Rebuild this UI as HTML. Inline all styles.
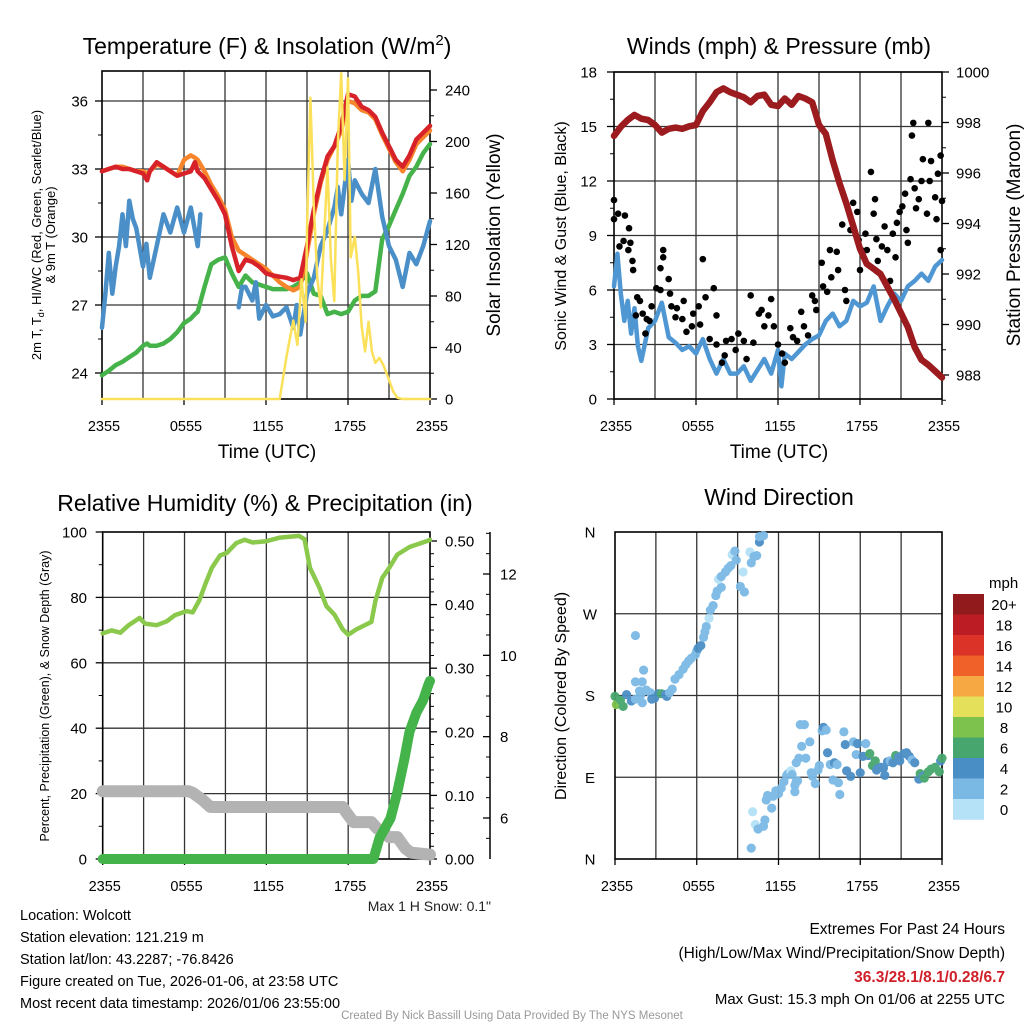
<!DOCTYPE html>
<html><head><meta charset="utf-8">
<style>
html,body{margin:0;padding:0;background:#fff;}
svg{display:block;font-family:"Liberation Sans",Arial,sans-serif;}
</style></head>
<body>
<svg id="svg" width="1024" height="1024" viewBox="0 0 1024 1024" xmlns="http://www.w3.org/2000/svg">
<rect x="0" y="0" width="1024" height="1024" fill="#fff"/>
<g id="g1"></g>
<g id="g2"></g>
<g id="g3"></g>
<g id="g4"></g>
<g id="txt">
<text x="267" y="54" font-size="23" text-anchor="middle">Temperature (F) &amp; Insolation (W/m<tspan dy="-9" font-size="15">2</tspan><tspan dy="9">)</tspan></text>
<text x="779" y="54" font-size="23" text-anchor="middle">Winds (mph) &amp; Pressure (mb)</text>
<text x="265" y="511" font-size="23" text-anchor="middle">Relative Humidity (%) &amp; Precipitation (in)</text>
<text x="779" y="505" font-size="23" text-anchor="middle">Wind Direction</text>
<text x="267" y="458" font-size="19" text-anchor="middle">Time (UTC)</text>
<text x="779" y="458" font-size="19" text-anchor="middle">Time (UTC)</text>
<text transform="translate(41,235) rotate(-90)" font-size="13" text-anchor="middle">2m T, T<tspan dy="3" font-size="9">d</tspan><tspan dy="-3">, HI/WC (Red, Green, Scarlet/Blue)</tspan></text>
<text transform="translate(55,235) rotate(-90)" font-size="13" text-anchor="middle">&amp; 9m T (Orange)</text>
<text transform="translate(500,235) rotate(-90)" font-size="19" text-anchor="middle">Solar Insolation (Yellow)</text>
<text transform="translate(566,236) rotate(-90)" font-size="16" text-anchor="middle">Sonic Wind &amp; Gust (Blue, Black)</text>
<text transform="translate(1020,235) rotate(-90)" font-size="19" text-anchor="middle">Station Pressure (Maroon)</text>
<text transform="translate(49,696) rotate(-90)" font-size="12.5" text-anchor="middle">Percent, Precipitation (Green), &amp; Snow Depth (Gray)</text>
<text transform="translate(566,696) rotate(-90)" font-size="16" text-anchor="middle">Direction (Colored By Speed)</text>
<text x="491" y="911" font-size="14" text-anchor="end" fill="#222">Max 1 H Snow: 0.1"</text>
<text x="20" y="920" font-size="14.5">Location: Wolcott</text>
<text x="20" y="942" font-size="14.5">Station elevation: 121.219 m</text>
<text x="20" y="964" font-size="14.5">Station lat/lon: 43.2287; -76.8426</text>
<text x="20" y="986" font-size="14.5">Figure created on Tue, 2026-01-06, at 23:58 UTC</text>
<text x="20" y="1008" font-size="14.5">Most recent data timestamp: 2026/01/06 23:55:00</text>
<text x="1005" y="934" font-size="15.5" text-anchor="end">Extremes For Past 24 Hours</text>
<text x="1005" y="958" font-size="15.5" text-anchor="end">(High/Low/Max Wind/Precipitation/Snow Depth)</text>
<text x="1005" y="982" font-size="15.5" font-weight="bold" fill="#d0202a" text-anchor="end">36.3/28.1/8.1/0.28/6.7</text>
<text x="1005" y="1004" font-size="15" text-anchor="end">Max Gust: 15.3 mph On 01/06 at 2255 UTC</text>
<text x="512" y="1019" font-size="11.5" fill="#999" text-anchor="middle">Created By Nick Bassill Using Data Provided By The NYS Mesonet</text>
</g>
</svg>
<script>
// ---------- data (hours since 23:55 UTC) ----------
const timeTicks = ["2355","0555","1155","1755","2355"];
const tHours = [0,0.5,1,1.5,2,2.5,3,3.3,3.5,4,4.5,5,5.5,6,6.5,6.8,7,7.5,8,8.5,9,9.5,10,10.5,11,11.5,12,12.5,13,13.5,14,14.5,15,15.5,16,16.5,17,17.5,18,18.5,19,19.5,20,20.5,21,21.5,22,22.5,23,23.5,24];
const tempRed = [32.9,33.0,33.1,33.0,33.0,32.9,32.8,32.5,32.9,33.3,33.1,32.9,32.7,32.8,32.9,33.3,32.9,32.6,32.1,31.6,31.0,29.6,28.5,29.0,28.9,28.7,28.4,28.3,28.25,28.2,28.1,28.2,29.6,31.2,32.5,33.55,34.0,34.9,36.3,36.2,35.75,35.6,35.3,34.6,34.0,33.4,33.1,33.6,34.3,34.6,34.9];
const tempOrange = [32.9,33.0,33.1,33.1,33.0,32.9,32.9,32.8,32.9,33.2,33.1,32.9,32.7,33.4,33.6,33.5,33.4,32.9,32.3,31.8,31.2,30.0,29.4,29.2,29.0,28.8,28.6,28.3,28.0,27.8,27.65,27.8,29.3,31.0,32.4,33.4,34.0,34.7,36.0,35.9,35.6,35.5,35.2,34.5,33.9,33.3,32.9,33.4,34.1,34.4,34.7];
const tempGreen = [23.9,24.1,24.35,24.5,24.7,24.9,25.2,25.3,25.2,25.2,25.3,25.5,25.8,26.2,26.4,26.6,26.7,27.8,28.8,29.0,29.1,28.4,27.8,28.3,28.0,27.9,27.8,27.7,27.7,27.7,27.8,28.0,28.4,27.5,27.4,26.6,26.7,26.6,26.7,27.2,27.4,27.4,27.6,29.9,30.5,31.2,31.9,32.7,33.1,33.7,34.1];
const dewHours = [0,0.25,0.5,0.75,1,1.25,1.5,1.75,2,2.25,2.5,3,3.25,3.5,4,4.5,5,5.5,6,6.5,7,7.2,null,10,10.25,10.5,11,11.25,11.5,12,12.5,13,13.5,14,14.25,14.5,15,15.5,16,16.5,17,17.25,17.5,18,18.25,18.5,19,19.5,20,20.5,21,21.5,22,22.5,23,23.5,24];
const tempBlue = [26.0,27.5,29.3,27.5,28.7,29.6,31.0,29.6,31.6,30.8,30.4,28.7,29.7,28.2,29.6,31.0,30.2,31.3,30.2,31.3,29.6,31.0,null,26.9,27.8,27.8,27.2,28.0,26.4,27.0,26.5,26.6,26.9,26.0,27.0,25.7,27.5,28.2,29.6,30.3,31.3,32.2,31.0,33.4,31.6,32.5,31.9,31.5,33.0,30.9,29.6,29.0,27.8,29.3,28.8,29.6,30.7];
const solarHours = [0,13,13.5,14,14.3,14.6,14.9,15,15.25,15.5,15.75,16,16.5,16.75,17,17.25,17.5,17.75,18,18.2,18.5,18.75,19,19.25,19.5,19.75,20,20.3,20.6,21,21.3,21.6,22,24];
const solar = [0,0,33,61,42,93,60,131,234,150,94,71,180,108,76,198,253,170,249,110,126,98,56,37,60,37,28,32,26,15,6,1,0,0];
const windHours = [0,0.25,0.5,0.75,1,1.25,1.5,1.75,2,2.5,3,3.5,4,4.5,5,5.5,6,6.5,7,7.5,8,8.5,9,9.5,10,10.5,11,11.5,12,12.25,12.5,13,13.5,14,14.5,15,15.5,16,16.5,17,17.5,18,18.5,19,19.5,20,20.5,21,21.5,22,22.5,23,23.5,24];
const windSpeed = [6.2,8.0,5.8,4.3,5.4,3.6,5.0,2.9,2.1,3.9,4.3,5.3,3.4,3.1,2.7,2.9,2.5,3.3,2.2,1.4,2.2,1.4,1.4,1.8,1.0,1.6,2.2,1.4,2.7,0.7,2.5,2.2,2.6,3.0,3.3,3.5,4.3,4.7,4.0,4.3,5.4,5.1,5.3,6.2,4.3,5.1,5.8,5.4,6.2,6.5,6.9,6.5,7.3,7.65];
const gustHours = [0,0,0.3,0.8,1.1,0.4,0.7,1.2,1.05,1.35,1.4,1.7,1.9,1.6,2.1,2.4,2.75,2.3,2.6,3.4,3.6,3.6,3.1,3.4,4.0,4.1,4.2,4.5,4.6,5.0,5.1,5.3,5.7,5.8,6.2,6.3,6.5,6.7,7.0,7.3,7.5,7.5,7.9,8.1,8.2,8.6,8.9,9.1,9.5,9.7,10.0,10.2,10.6,10.8,11.0,11.3,11.5,11.7,12.0,12.3,12.5,12.9,13.1,13.4,13.7,13.9,14.2,14.5,14.7,14.8,15.2,15.3,15.6,15.8,15.9,16.3,16.4,16.7,16.9,17.0,17.3,17.5,17.8,17.9,18.1,18.0,18.4,18.5,18.8,19.0,19.1,19.2,19.3,19.6,19.8,20.0,20.2,20.4,20.6,20.7,20.9,21.1,21.3,21.4,21.5,21.7,21.8,21.9,22.0,22.1,22.3,22.5,22.6,22.9,23.0,23.1,23.2,23.5,23.6,23.7,23.9,24.0,23.9];
const gustSpeed = [10.95,9.9,10.2,10.1,9.4,8.4,8.7,8.6,8.2,7.6,7.1,5.6,5.4,4.6,4.7,4.4,5.1,3.6,4.3,7.2,8.2,7.8,6.1,6.0,6.6,5.8,5.1,4.5,5.0,4.4,5.4,3.7,4.0,4.7,5.1,4.1,7.7,5.6,3.3,6.1,4.6,3.0,2.0,2.4,3.2,3.3,2.7,3.6,3.2,2.2,5.7,3.1,4.7,4.9,4.0,4.6,5.5,4.0,3.0,2.5,2.0,3.9,3.4,3.2,4.8,4.0,3.5,5.7,5.4,4.9,7.5,6.2,5.9,8.2,6.7,8.1,7.1,9.6,6.0,5.4,9.3,10.8,10.3,8.75,8.2,7.1,9.1,8.2,12.5,10.2,11.0,8.8,7.6,8.4,9.5,8.2,6.5,9.1,7.8,9.7,10.3,10.6,11.3,9.3,8.6,12.1,14.5,15.2,11.6,10.5,11.0,12.0,13.2,10.2,15.2,12.0,13.1,11.1,9.9,12.4,13.4,10.9,8.2];
const presHours = [0,0.5,1,1.5,2,2.5,3,3.5,4,4.5,5,5.5,6,6.5,7,7.5,8,8.5,9,9.5,10,10.5,11,11.5,12,12.5,13,13.5,14,14.5,15,15.5,16,16.5,17,17.5,18,18.5,19,19.5,20,20.5,21,21.5,22,22.5,23,23.5,24];
const pressure = [997.47,997.83,998.1,998.3,998.15,998.1,997.9,997.6,997.75,997.8,997.75,997.85,997.9,998.45,998.8,999.2,999.35,999.2,999.1,999.0,998.8,999.05,999.1,998.7,998.65,998.95,998.7,999.05,998.95,998.8,997.9,997.55,996.5,995.6,994.8,993.9,993.0,992.4,992.2,992.0,991.5,991.0,990.45,989.9,989.1,988.6,988.4,988.15,987.9];
const rhHours = [0,0.66,1.3,1.9,2.7,3.1,3.95,4.7,5.3,6.15,6.6,7.1,7.5,8,8.6,9.1,9.8,10.4,11,12,13,14.4,14.8,15.2,15.9,16.4,17,17.6,18,18.6,19.7,20,20.5,21,21.6,22.5,23.9,24];
const rh = [69,69.9,69.2,71.5,73.7,72.0,71.5,72.7,74.6,75.8,75.4,79.2,83.8,89,92.8,93.6,96.6,97.6,96.8,97.2,98.3,98.8,97.8,89,82.9,77.3,74.7,70.2,68.6,70.2,72.5,78.9,86,89,93.1,95.4,97.4,97.6];
const precipHours = [0,19.85,20.3,21.1,21.6,22.1,22.5,23,23.5,23.9,24];
const precip = [0,0,0.033,0.064,0.105,0.155,0.2,0.23,0.25,0.275,0.28];
const snowHours = [0,6.3,6.6,7.3,7.9,17.6,17.9,18.4,19.7,20.1,21.0,21.6,22.2,22.6,24];
const snow = [6.66,6.66,6.62,6.45,6.27,6.27,6.12,5.9,5.9,5.75,5.53,5.53,5.25,5.15,5.1];
const dirHours = [0,0.1,0.4,0.6,0.85,1.2,1.5,1.8,1.9,2.0,1.5,2.1,1.5,2.0,2.3,2.6,2.7,2.9,3.2,3.4,3.7,3.8,4.0,4.2,4.4,4.7,5.0,5.2,5.4,5.6,5.9,6.0,6.1,6.3,6.5,6.6,6.7,6.9,7.0,7.2,7.4,7.5,7.8,7.6,7.8,8.1,8.3,8.5,8.6,8.8,8.9,9.2,9.4,9.5,9.9,10.0,10.2,10.4,10.6,10.9,10.6,10.0,10.3,10.5,10.9,10.1,11.0,11.1,11.2,11.5,11.6,11.8,12.0,12.2,12.4,12.6,12.7,12.9,13.0,13.2,13.2,13.3,13.4,13.3,13.5,13.6,13.7,13.9,14.0,14.3,14.4,14.5,14.7,14.9,15.0,15.2,15.3,15.5,15.6,15.8,16.0,16.1,16.3,16.4,16.5,16.8,16.9,17.0,17.3,17.5,17.7,17.8,18.0,18.2,18.4,18.6,18.7,18.9,19.1,19.2,19.3,19.5,19.7,19.8,20.0,20.2,20.4,20.6,20.8,20.9,21.2,21.4,21.6,21.8,22.0,22.3,22.4,22.6,22.7,23.0,23.2,23.5,23.8,23.9,24.0];
const dirDeg = [179,170,175,168,181,174,176,185,181,172,246,208,195,195,186,183,176,177,182,182,181,179,183,187,198,203,209,214,218,221,225,229,232,235,244,250,256,265,274,279,290,295,299,308,311,316,320,323,335,339,329,300,316,294,338,326,333,334,349,356,355,12,38,33,36,52,43,65,70,56,69,75,72,78,85,92,94,97,93,74,81,85,86,106,111,148,124,148,111,129,95,91,83,98,103,141,145,142,117,104,87,106,104,84,71,140,126,97,91,129,115,127,95,113,127,114,116,103,108,98,100,101,100,92,107,108,106,114,112,108,116,117,113,109,106,88,94,91,89,96,99,101,96,108,111,99,107,104,109,116,126,114,113,116,113,119,113];
const dirSpeed = [7,8.5,7,7,5,5,3,3,3,3,3,3,3,3,3,3,5,5,5,7,5,5,3,3,3,3,3,3,3,3,3,3,5,5,3,3,3,1.5,3,3,3,3,3,1.5,3,3,3,3,1.5,3,3,3,1.5,3,1.5,3,3,3,5,3,3,3,1.5,3,3,1.5,3,3,3,3,3,3,3,3,3,3,3,1.5,3,3,3,3,3,3,3,3,3,3,3,3,3,3,3,3,3,3,5,3,5,3,3,5,3,3,3,3,5,5,5,3,3,5,5,5,3,5,7,7,7,5,5,5,5,5,5,3,5,7,5,5,5,5,5,3,5,5,7,5,7,7,7,7,7,5,7,7,7,7,7,7,7,8.5,5];
const cbLabels = ["20+","18","16","14","12","10","8","6","4","2","0"];
const cbColors = ["#911a1c","#bc1d25","#db3328","#ef6129","#f6a843","#e5e05a","#7cc24c","#47a66d","#4a8ec6","#7bb9e5","#b5e2f7"];

// ---------- helpers ----------
const NS="http://www.w3.org/2000/svg";
function mk(parent,tag,attrs){const e=document.createElementNS(NS,tag);for(const k in attrs)e.setAttribute(k,attrs[k]);parent.appendChild(e);return e;}
function lin(d0,d1,r0,r1){return v=>r0+(v-d0)*(r1-r0)/(d1-d0);}
function pathOf(xs,ys,sx,sy){let d="",pen=false;for(let i=0;i<xs.length;i++){if(xs[i]===null||ys[i]===null){pen=false;continue;}d+=(pen?"L":"M")+sx(xs[i]).toFixed(1)+" "+sy(ys[i]).toFixed(1);pen=true;}return d;}
function line(g,xs,ys,sx,sy,color,w,name){const p=mk(g,"path",{d:pathOf(xs,ys,sx,sy),fill:"none",stroke:color,"stroke-width":w,"stroke-linejoin":"round","stroke-linecap":"round"});


return p;}
function txt(g,x,y,s,size,anchor,name){const t=mk(g,"text",{x:x,y:y,"font-size":size,"text-anchor":anchor});t.textContent=s;


return t;}
function frame(g,x0,x1,y0,y1,hLines,vCount,name){
  const gr=mk(g,"g",{});
  
  
  hLines.forEach(y=>{const l=mk(gr,"line",{x1:x0,x2:x1,y1:y,y2:y,stroke:"#333","stroke-width":1.3});
    
    });
  for(let i=1;i<vCount;i++){const x=x0+(x1-x0)*i/vCount;const l=mk(gr,"line",{x1:x,x2:x,y1:y0,y2:y1,stroke:"#333","stroke-width":1.3});
    
    }
  const b=mk(gr,"rect",{x:x0,y:y0,width:x1-x0,height:y1-y0,fill:"none",stroke:"#000","stroke-width":1.6});
  
  
}
function xTicks(g,x0,x1,y1,ly,name){for(let i=0;i<timeTicks.length;i++){const x=x0+(x1-x0)*i/(timeTicks.length-1);
  const l=mk(g,"line",{x1:x,x2:x,y1:y1,y2:y1+6,stroke:"#000","stroke-width":1.3});
  
  
  txt(g,x+2,ly,timeTicks[i],14.5,"middle",name+'-x-tick-label');}}
function yTicks(g,vals,labels,sy,x,dir,lx,anchor,name,minor){
  vals.forEach((v,i)=>{const y=sy(v);const l=mk(g,"line",{x1:x,x2:x+dir*7,y1:y,y2:y,stroke:"#000","stroke-width":1.3});
    
    
    txt(g,lx,y+5.5,labels[i],15,anchor,name+'-tick-label');});
  (minor||[]).forEach(v=>{const y=sy(v);const l=mk(g,"line",{x1:x,x2:x+dir*4,y1:y,y2:y,stroke:"#000","stroke-width":1});
    
    });
}

// ---------- panel 1 ----------
(function(){
const g=document.getElementById("g1");
const X0=102,X1=430,Y0=71,Y1=399;
const sx=lin(0,24,X0,X1), sT=lin(36,24,101,373), sS=lin(0,240,399,90);
const tTicks=[36,33,30,27,24];
frame(g,X0,X1,Y0,Y1,tTicks.map(sT),8,"temp");
yTicks(g,tTicks,tTicks.map(String),sT,X0,-1,88,"end","temp-y",[34.5,31.5,28.5,25.5]);
const sTicks=[0,40,80,120,160,200,240];
yTicks(g,sTicks,sTicks.map(String),sS,X1,1,445,"start","solar-y",[20,60,100,140,180,220]);
xTicks(g,X0,X1,Y1,431,"temp");
line(g,tHours,tempGreen,sx,sT,"#45b349",4.5,"heat-index-line");
line(g,dewHours,tempBlue,sx,sT,"#4a8fc8",4.5,"dewpoint-line");
line(g,tHours,tempOrange,sx,sT,"#f7852c",4.5,"temp-9m-line");
line(g,tHours,tempRed,sx,sT,"#d7222a",4.5,"temp-2m-line");
line(g,solarHours,solar,sx,sS,"#fbe05a",2.5,"solar-line");
})();

// ---------- panel 2 ----------
(function(){
const g=document.getElementById("g2");
const X0=614,X1=942,Y0=72,Y1=399;
const sx=lin(0,24,X0,X1), sW=lin(0,18,399,72), sP=lin(988,1000,375,72);
const wT=[0,3,6,9,12,15,18];
frame(g,X0,X1,Y0,Y1,wT.map(sW),8,"wind");
yTicks(g,wT,wT.map(String),sW,X0,-1,597,"end","wind-y",[1.5,4.5,7.5,10.5,13.5,16.5]);
const pT=[988,990,992,994,996,998,1000];
yTicks(g,pT,pT.map(String),sP,X1,1,956,"start","pressure-y",[987,989,991,993,995,997,999]);
xTicks(g,X0,X1,Y1,431,"wind");
line(g,windHours,windSpeed,sx,sW,"#4f97d3",4.5,"wind-speed-line");
const gg=mk(g,"g",{});


for(let i=0;i<gustHours.length;i++){const c=mk(gg,"circle",{cx:sx(gustHours[i]),cy:sW(gustSpeed[i]),r:3.3,fill:"#000"});
  
  }
line(g,presHours,pressure,sx,sP,"#9b1b1e",6.5,"pressure-line");
})();

// ---------- panel 3 ----------
(function(){
const g=document.getElementById("g3");
const X0=102.7,X1=430,Y0=532,Y1=859;
const sx=lin(0,24,X0,X1), sR=lin(0,100,859,532), sPr=lin(0,0.5,859,541), sSn=lin(6,12,818,574);
const rT=[0,20,40,60,80,100];
frame(g,X0,X1,Y0,Y1,[20,40,60,80].map(sR),8,"humidity");
yTicks(g,rT,rT.map(String),sR,X0,-1,87,"end","humidity-y",[10,30,50,70,90]);
const pT=[0,0.1,0.2,0.3,0.4,0.5];
yTicks(g,pT,pT.map(v=>v.toFixed(2)),sPr,X1,1,445,"start","precip-y",[0.02,0.04,0.06,0.08,0.12,0.14,0.16,0.18,0.22,0.24,0.26,0.28,0.32,0.34,0.36,0.38,0.42,0.44,0.46,0.48]);
const ax=mk(g,"line",{x1:490,x2:490,y1:Y0,y2:Y1,stroke:"#000","stroke-width":1.5});


const sT=[6,8,10,12];
yTicks(g,sT,sT.map(String),sSn,490,-1,500,"start","snow-y",[5.5,6.5,7,7.5,8.5,9,9.5,10.5,11,11.5,12.5,13]);
xTicks(g,X0,X1,Y1,891,"humidity");
line(g,snowHours,snow,sx,sSn,"#b3b3b3",12,"snow-depth-line");
line(g,precipHours,precip,sx,sPr,"#44b349",10,"precip-line");
line(g,rhHours,rh,sx,sR,"#8bc94d",4.5,"humidity-line");
})();

// ---------- panel 4 ----------
(function(){
const g=document.getElementById("g4");
const X0=615,X1=942,Y0=532,Y1=859;
const sx=lin(0,24,X0,X1), sD=lin(0,360,859,532);
frame(g,X0,X1,Y0,Y1,[90,180,270].map(sD),8,"direction");
const dT=[360,270,180,90,0], dL=["N","W","S","E","N"];
dT.forEach((v,i)=>{txt(g,590,sD(v)+5.5,dL[i],15,"middle","direction-y-tick-label");});
xTicks(g,X0,X1,Y1,891,"direction");
const pg=mk(g,"g",{opacity:0.95});


for(let i=0;i<dirHours.length;i++){
  const s=dirSpeed[i];const bin=Math.min(10,Math.floor(s/2));
  const c=mk(pg,"circle",{cx:sx(dirHours[i]),cy:sD(dirDeg[i]),r:4.6,fill:cbColors[10-bin]});
  
  }
const cb=mk(g,"g",{});


txt(cb,989,588,"mph",15,"start","colorbar-title");
for(let i=0;i<cbColors.length;i++){const y=594+i*20.5;
  const r=mk(cb,"rect",{x:953,y:y,width:31,height:20.8,fill:cbColors[i]});
  
  
  txt(cb,1004,y+16,cbLabels[i],15,"middle","colorbar-label");}
})();
</script>
</body></html>
